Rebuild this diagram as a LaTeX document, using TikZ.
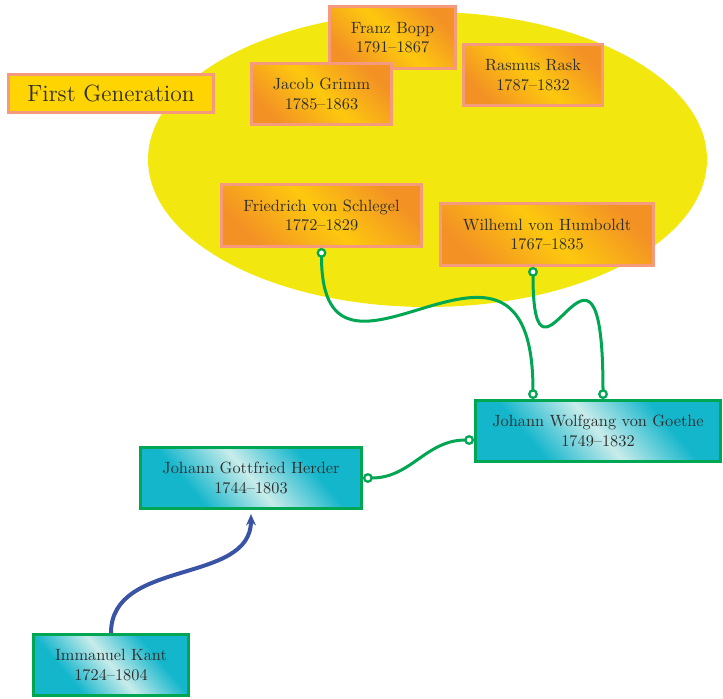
\documentclass[tikz,border=0pt]{standalone}
\usetikzlibrary{arrows.meta,calc}
\newdimen\px
\px=0.6135pt
\definecolor{groupyellow}{HTML}{F2E80F}
\definecolor{boxorange}{HTML}{F39125}
\definecolor{boxyellow}{HTML}{FDC80E}
\definecolor{salmon}{HTML}{F59A7C}
\definecolor{labelgold}{HTML}{FFD400}
\definecolor{tealdark}{HTML}{14B6CC}
\definecolor{teallight}{HTML}{C8ECEA}
\colorlet{tealmid}{tealdark!55!teallight}
\definecolor{linkgreen}{HTML}{00A651}
\definecolor{linkblue}{HTML}{3A54A5}
\definecolor{ink}{HTML}{2E2E2E}
\pgfdeclarehorizontalshading{tealmetal}{100bp}{color(0bp)=(tealmid); color(14bp)=(tealdark); color(32bp)=(tealdark); color(50bp)=(teallight); color(68bp)=(tealdark); color(86bp)=(tealdark); color(100bp)=(tealmid)}
\tikzset{
  boxsize/.style 2 args={minimum width=#1\px, minimum height=#2\px},
  scholar/.style={draw=salmon, line width=3\px, shading=axis,
    top color=boxorange, bottom color=boxorange, middle color=boxyellow,
    shading angle=-45, text=ink, align=center, inner sep=0pt},
  thinker/.style={draw=linkgreen, line width=3\px, shading=tealmetal,
    shading angle=40, text=ink, align=center, inner sep=0pt},
  tag/.style={draw=salmon, line width=3\px, fill=labelgold, text=ink,
    font=\Large, inner sep=0pt},
  link/.style={draw=linkgreen, line width=3\px,
    arrows={Circle[fill=white,length=6pt,line width=1.4pt]-Circle[fill=white,length=6pt,line width=1.4pt]}},
  influence/.style={draw=linkblue, line width=4\px,
    -{Stealth[length=7pt,width=6pt]}, shorten >=4\px},
}
\begin{document}
\begin{tikzpicture}[x=\px, y=-\px]
\useasboundingbox (0,0) rectangle (723,698);

% the first generation, grouped on a yellow field
\fill[groupyellow] (427.5,159.5) ellipse [x radius=279.5, y radius=147.5];

\node[scholar, boxsize={126}{62}] (bopp) at (392.5,37.5) {Franz Bopp\\1791--1867};
\node[scholar, boxsize={140}{61}] (grimm) at (321.5,94) {Jacob Grimm\\1785--1863};
\node[scholar, boxsize={139}{61}] (rask) at (533,75) {Rasmus Rask\\1787--1832};
\node[scholar, boxsize={200}{62}] (schlegel) at (321.5,215.5) {Friedrich von Schlegel\\1772--1829};
\node[scholar, boxsize={213}{62}] (humboldt) at (547,234.5) {Wilheml von Humboldt\\1767--1835};

\node[tag, boxsize={205}{38}] (firstgen) at (111,93.5) {First Generation};

% the older thinkers
\node[thinker, boxsize={245}{61}] (goethe) at (598,431) {Johann Wolfgang von Goethe\\1749--1832};
\node[thinker, boxsize={221}{61}] (herder) at (251,478) {Johann Gottfried Herder\\1744--1803};
\node[thinker, boxsize={155}{61}] (kant) at (111,665) {Immanuel Kant\\1724--1804};

% links
\draw[link] (schlegel.south) .. controls +(0,183) and +(0,-227) .. ($(goethe.north)+(-65,0)$);
\draw[link] ($(humboldt.south)+(-14,0)$) .. controls +(0,158) and +(0,-219) .. ($(goethe.north)+(5,0)$);
\draw[link] (herder.east) .. controls +(48,0) and +(-48,0) .. ($(goethe.west)+(0,9)$);
\draw[influence] (kant.north) .. controls +(0,-75) and +(0,75) .. (herder.south);
\end{tikzpicture}
\end{document}
